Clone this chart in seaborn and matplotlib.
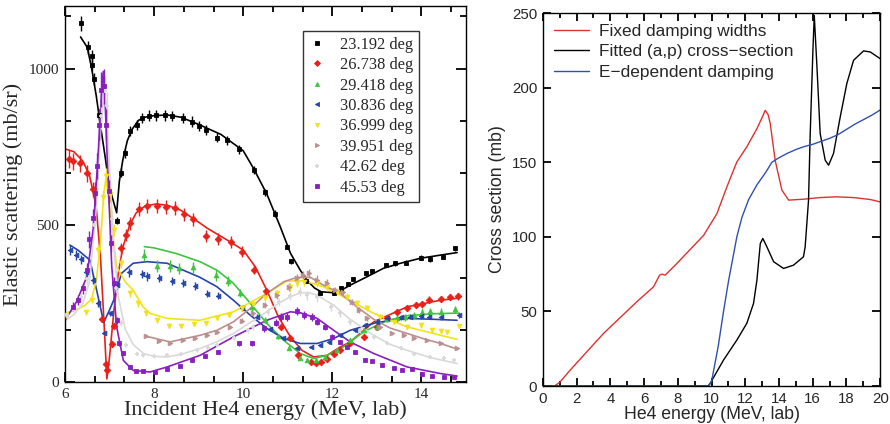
import numpy as np
import pandas as pd
import matplotlib
import matplotlib.pyplot as plt
import seaborn as sns
from matplotlib.lines import Line2D
from matplotlib.ticker import MultipleLocator

matplotlib.use('Agg')

# ---------------- left panel: elastic scattering data + fits ----------------
angles = ['23.192 deg', '26.738 deg', '29.418 deg', '30.836 deg',
          '36.999 deg', '39.951 deg', '42.62 deg', '45.53 deg']
colors = ['#000000', '#e8201a', '#3fc43f', '#2545a8',
          '#f2e21a', '#bc8f8f', '#d9d9d9', '#8a1fc0']
markers = ['s', 'D', '^', '<', 'v', '>', '+', 's']
rel_err = [0.02, 0.04, 0.05, 0.04, 0.04, 0.04, 0.05, 0.06]

# 23.192 deg
e_pts_a = [6.35, 6.52, 6.60, 6.61, 6.66, 6.76, 7.16, 7.25, 7.34, 7.46, 7.61, 7.73, 7.88, 8.05,
           8.24, 8.40, 8.64, 8.86, 9.00, 9.16, 9.42, 9.63, 9.91, 10.24, 10.50, 10.71, 10.99,
           11.07, 11.40, 11.73, 12.03, 12.19, 12.35, 12.46, 12.76, 12.89, 13.21, 13.40, 13.66,
           13.98, 14.19, 14.48, 14.75]
s_pts_a = [1144, 1068, 1013, 1040, 967, 853, 515, 668, 730, 802, 821, 842, 850, 851,
           851, 849, 842, 831, 818, 805, 780, 771, 742, 677, 605, 537, 432,
           385, 322, 283, 283, 300, 312, 329, 347, 354, 373, 379, 381,
           397, 392, 400, 427]
e_fit_a = [6.35, 6.5, 6.6, 6.7, 6.8, 6.9, 7.0, 7.1, 7.16, 7.22, 7.3, 7.4, 7.5, 7.65, 7.8, 8.0,
           8.3, 8.6, 9.0, 9.5, 10.0, 10.23, 10.53, 10.83, 11.06, 11.28, 11.43, 11.6, 11.75,
           12.03, 12.18, 12.4, 12.78, 13.15, 13.53, 13.98, 14.43, 14.8]
s_fit_a = [1101, 1068, 1000, 915, 815, 720, 620, 570, 540, 640, 710, 770, 805, 835, 845, 850,
           852, 845, 822, 790, 738, 682, 600, 496, 411, 357, 325, 300, 288,
           285, 291, 309, 336, 363, 379, 395, 405, 413]

# 26.738 deg
e_pts_b = [6.10, 6.19, 6.34, 6.50, 6.64, 6.84, 6.91, 6.95, 7.05, 7.11, 7.26, 7.37, 7.46, 7.66,
           7.85, 8.07, 8.27, 8.48, 8.68, 8.88, 9.17, 9.44, 9.72, 9.98, 10.25, 10.51, 10.84,
           11.06, 11.22, 11.52, 11.64, 11.75, 11.88, 12.04, 12.18, 12.40, 12.70, 13.00, 13.22,
           13.45, 13.68, 13.87, 14.02, 14.17, 14.43, 14.65, 14.82]
s_pts_b = [711, 704, 698, 666, 615, 201, 59, 38, 120, 180, 427, 469, 506, 552,
           563, 562, 557, 555, 535, 519, 466, 457, 447, 416, 358, 290, 176,
           140, 85, 64, 60, 64, 72, 91, 101, 123, 144, 176, 203,
           224, 237, 245, 250, 263, 265, 271, 273]
e_fit_b = [6.0, 6.2, 6.4, 6.55, 6.7, 6.8, 6.88, 6.94, 7.0, 7.1, 7.2, 7.3, 7.45, 7.6, 7.8, 8.05,
           8.3, 8.6, 9.0, 9.2, 9.7, 10.0, 10.27, 10.53, 10.79, 11.06, 11.32, 11.58, 11.88,
           12.18, 12.4, 12.93, 13.68, 14.43, 14.8]
s_fit_b = [744, 735, 705, 660, 560, 390, 180, 10, 80, 230, 350, 430, 500, 540, 562, 568,
           564, 548, 510, 490, 448, 421, 368, 293, 208, 144, 101, 80, 85,
           112, 128, 192, 240, 261, 267]

# 29.418 deg
e_pts_c = [7.78, 8.07, 8.36, 8.57, 8.87, 9.39, 9.66, 9.93, 10.2, 10.49, 10.77, 11.02, 11.27,
           11.43, 11.64, 11.84, 12.10, 12.40, 12.70, 13.00, 13.22, 13.45, 13.64, 13.83, 14.02,
           14.20, 14.43, 14.76]
s_pts_c = [405, 370, 370, 363, 366, 340, 322, 284, 240, 197, 146, 108, 77,
           69, 69, 80, 101, 133, 165, 176, 200, 203, 206, 213, 224,
           226, 224, 232]
e_fit_c = [7.78, 8.0, 8.5, 9.03, 9.41, 9.78, 10.16, 10.53, 10.91, 11.28, 11.58, 11.88, 12.25,
           12.7, 13.2, 13.7, 14.3, 14.85]
s_fit_c = [432, 428, 410, 384, 357, 315, 251, 187, 133, 91, 75, 85, 112,
           160, 195, 212, 218, 220]

# 30.836 deg
e_pts_d = [6.11, 6.24, 6.36, 6.47, 6.64, 6.75, 6.88, 7.02, 7.16, 7.43, 7.72, 7.85, 8.11, 8.40,
           8.64, 8.91, 9.19, 9.43, 9.98, 10.31, 10.6, 10.9, 11.21, 11.52, 11.73, 11.92, 12.18,
           12.52, 12.74, 13.0, 13.22, 13.53, 13.75, 13.98, 14.16, 14.43, 14.84]
s_pts_d = [421, 406, 391, 350, 327, 251, 158, 219, 309, 350, 345, 337, 331, 322,
           315, 306, 282, 275, 237, 208, 170, 140, 107, 112, 117, 128, 149,
           165, 181, 192, 203, 206, 208, 210, 208, 206, 213]
e_fit_d = [6.11, 6.3, 6.56, 6.7, 6.87, 7.0, 7.09, 7.27, 7.53, 7.84, 8.29, 9.03, 9.41, 9.78,
           10.16, 10.53, 10.91, 11.28, 11.66, 12.03, 12.4, 13.0, 13.68, 14.3, 14.8]
s_fit_d = [437, 420, 389, 300, 190, 230, 260, 347, 379, 384, 379, 334, 304, 261,
           213, 171, 139, 123, 123, 139, 165, 190, 203, 200, 197]

# 36.999 deg
e_pts_e = [6.02, 6.47, 6.61, 6.75, 6.85, 6.92, 7.0, 7.11, 7.25, 7.45, 7.63, 7.82, 8.07, 8.34,
           8.61, 8.90, 9.16, 9.42, 9.69, 9.97, 10.23, 10.49, 10.76, 11.06, 11.21, 11.36, 11.66,
           11.88, 12.10, 12.33, 12.55, 12.78, 13.08, 13.38, 13.68, 13.98, 14.24, 14.43, 14.58,
           14.84]
s_pts_e = [213, 222, 262, 420, 590, 656, 600, 485, 380, 283, 251, 219, 197, 180,
           179, 185, 188, 205, 215, 235, 248, 268, 283, 303, 315, 318, 315,
           304, 288, 272, 251, 235, 208, 192, 176, 181, 165, 163, 160,
           178]
e_fit_e = [6.0, 6.25, 6.45, 6.6, 6.71, 6.8, 6.87, 6.92, 7.0, 7.16, 7.35, 7.53, 7.75, 7.91, 8.29,
           9.03, 9.78, 10.53, 10.98, 11.36, 11.8, 12.18, 12.93, 13.68, 14.8]
s_fit_e = [219, 230, 245, 265, 330, 450, 600, 650, 560, 368, 320, 293, 240, 219, 203,
           197, 224, 283, 322, 323, 304, 277, 219, 176, 136]

# 39.951 deg
e_pts_f = [7.82, 8.10, 8.36, 8.66, 8.92, 9.18, 9.41, 9.71, 9.97, 10.23, 10.49, 10.76, 11.02,
           11.21, 11.35, 11.47, 11.66, 11.88, 12.07, 12.25, 12.44, 12.6, 12.78, 13.08, 13.34,
           13.60, 13.83, 14.13, 14.43, 14.80]
s_pts_f = [148, 132, 123, 135, 141, 150, 160, 176, 195, 219, 245, 277, 304,
           331, 341, 347, 327, 315, 293, 288, 256, 230, 203, 176, 155,
           149, 142, 133, 123, 107]
e_fit_f = [7.82, 8.36, 9.03, 9.41, 9.78, 10.16, 10.53, 10.91, 11.21, 11.51, 11.8, 12.18, 12.55,
           12.93, 13.3, 13.68, 14.05, 14.43, 14.8]
s_fit_f = [146, 128, 149, 165, 192, 235, 283, 320, 334, 334, 309, 283, 240,
           200, 172, 155, 138, 123, 105]

# 42.62 deg
e_pts_g = [6.05, 6.2, 6.35, 6.5, 6.65, 6.8, 6.9, 6.95, 7.05, 7.15, 7.25, 7.38, 7.61, 7.74, 8.0,
           8.3, 8.6, 8.96, 9.2, 9.41, 9.8, 10.1, 10.23, 10.55, 10.8, 11.06, 11.28, 11.43, 11.66,
           11.96, 12.18, 12.40, 12.63, 12.93, 13.22, 13.53, 13.83, 14.20, 14.50, 14.73]
s_pts_g = [215, 230, 270, 330, 500, 850, 930, 880, 520, 300, 187, 117, 91, 85, 82,
           85, 90, 101, 110, 117, 140, 165, 176, 225, 255, 275, 288, 277, 270,
           240, 219, 192, 165, 144, 123, 107, 91, 80, 77, 69]
e_fit_g = [6.0, 6.2, 6.4, 6.55, 6.7, 6.8, 6.88, 6.93, 7.0, 7.1, 7.2, 7.35, 7.53, 7.76, 8.0, 8.29,
           8.6, 9.03, 9.4, 9.78, 10.16, 10.53, 10.8, 11.06, 11.28, 11.5, 11.66, 12.03, 12.4,
           12.93, 13.3, 13.68, 14.2, 14.8]
s_fit_g = [195, 215, 250, 320, 550, 800, 920, 890, 680, 420, 270, 170, 120, 91, 82, 80,
           88, 107, 128, 155, 190, 224, 252, 272, 285, 284, 277, 245, 200,
           149, 120, 101, 78, 59]

# 45.53 deg
e_pts_h = [6.17, 6.30, 6.40, 6.49, 6.55, 6.62, 6.67, 6.73, 6.77, 6.80, 6.88, 6.92, 6.99, 7.03,
           7.10, 7.16, 7.22, 7.30, 7.46, 7.60, 7.76, 8.01, 8.30, 8.58, 8.86, 9.15, 9.43, 9.91,
           10.20, 10.46, 10.74, 10.85, 10.99, 11.21, 11.36, 11.54, 11.66, 11.84, 11.99, 12.18,
           12.33, 12.52, 12.74, 12.89, 13.12, 13.38, 13.57, 13.79, 14.02, 14.24, 14.50, 14.73]
s_pts_h = [240, 261, 299, 357, 455, 522, 602, 688, 821, 933, 943, 821, 608, 443,
           315, 197, 123, 93, 48, 35, 35, 32, 42, 50, 69, 82, 96, 123,
           123, 171, 189, 208, 208, 227, 213, 208, 192, 176, 144, 128,
           112, 96, 69, 67, 53, 46, 37, 43, 25, 19, 16, 16]
e_fit_h = [6.0, 6.26, 6.49, 6.64, 6.75, 6.82, 6.86, 6.9, 6.94, 7.05, 7.16, 7.31, 7.53, 7.91,
           8.29, 9.03, 9.78, 10.53, 11.06, 11.28, 11.66, 12.03, 12.4, 12.93, 13.68, 14.43, 14.8]
s_fit_h = [197, 256, 336, 496, 741, 922, 991, 900, 741, 368, 176, 69, 37, 32,
           48, 85, 144, 197, 224, 221, 203, 165, 128, 91, 48, 27, 19]

e_pts = [e_pts_a, e_pts_b, e_pts_c, e_pts_d, e_pts_e, e_pts_f, e_pts_g, e_pts_h]
s_pts = [s_pts_a, s_pts_b, s_pts_c, s_pts_d, s_pts_e, s_pts_f, s_pts_g, s_pts_h]
e_fit = [e_fit_a, e_fit_b, e_fit_c, e_fit_d, e_fit_e, e_fit_f, e_fit_g, e_fit_h]
s_fit = [s_fit_a, s_fit_b, s_fit_c, s_fit_d, s_fit_e, s_fit_f, s_fit_g, s_fit_h]

# ---------------- right panel: reaction cross sections ----------------
e_fixed = [0, 0.69, 1.0, 1.62, 3.60, 5.57, 6.56, 6.92, 7.06, 7.25, 7.94, 9.53, 10.32, 10.91,
           11.50, 12.09, 12.69, 13.0, 13.18, 13.35, 13.48, 13.77, 14.17, 14.57, 15.45, 16.44,
           17.43, 18.42, 19.41, 20.0]
s_fixed = [0, 0, 2.5, 10.7, 35.3, 56.5, 66.5, 74.3, 75, 74.3, 82.1, 101, 115.6, 133.5,
           150.2, 160.3, 172.5, 180, 184.8, 182, 175.9, 151.3, 131.3, 124.6, 125.2, 126.3,
           126.8, 126.3, 125, 123.4]
e_fitted = [0, 9.8, 9.92, 10.71, 11.50, 12.09, 12.49, 12.69, 12.89, 13.04, 13.28, 13.68, 14.27,
            14.86, 15.45, 15.55, 15.75, 15.85, 16.01, 16.09, 16.25, 16.44, 16.74, 16.94, 17.23,
            17.63, 18.02, 18.42, 19.01, 19.41, 20.0]
s_fitted = [0, 0, 1.8, 17.4, 30.8, 42, 55.4, 71, 95.5, 98.9, 93.3, 83.3, 78.8,
            81, 86.6, 93.3, 124.6, 169.2, 225, 248.4, 213.8, 169.2, 151.3, 148, 155.8,
            180.4, 202.7, 218.3, 224.6, 223.9, 219.4]
e_edep = [0, 9.83, 10.0, 10.2, 10.4, 10.71, 11.0, 11.3, 11.5, 11.8, 12.2, 12.7, 13.2, 13.58,
          14.0, 14.5, 15.0, 15.5, 16.0, 16.5, 17.0, 17.5, 18.0, 18.5, 19.0, 19.5, 20.0]
s_edep = [0, 0, 3, 15, 27, 50, 70, 88, 100, 113, 125, 135, 143, 150,
          153, 156, 158.5, 160.5, 162, 164, 166, 168.5, 172, 175.5, 178.5, 181.5, 185]
curve_labels = ['Fixed damping widths', 'Fitted (a,p) cross\u2212section', 'E\u2212dependent damping']
curve_colors = ['#e03030', '#000000', '#3050b0']

sns.set_style('ticks')
serif = ['Liberation Serif', 'DejaVu Serif']
sans = ['Liberation Sans', 'DejaVu Sans']

fig = plt.figure(figsize=(8.9, 4.24), dpi=100)
ax1 = fig.add_axes([0.073, 0.099, 0.4506, 0.887])
ax2 = fig.add_axes([0.610, 0.0896, 0.379, 0.8797])

# fits as long-form table
fits = pd.concat([pd.DataFrame({'E': e, 'sigma': s, 'angle': a})
                  for e, s, a in zip(e_fit, s_fit, angles)], ignore_index=True)
sns.lineplot(data=fits, x='E', y='sigma', hue='angle', palette=dict(zip(angles, colors)),
             sort=False, estimator=None, legend=False, lw=1.2, ax=ax1)

handles = []
for e, s, a, c, m, r in zip(e_pts, s_pts, angles, colors, markers, rel_err):
    s = np.asarray(s, dtype=float)
    mew = 1.3 if m == '+' else 0.6
    ax1.errorbar(e, s, yerr=s * r, fmt=m, color=c, ms=3.4, mew=mew,
                 elinewidth=1.0, capsize=0, zorder=3)
    handles.append(Line2D([], [], ls='none', marker=m, color=c, ms=3.0, mew=mew, label=a))

ax1.set_xlim(6, 15)
ax1.set_ylim(0, 1200)
ax1.xaxis.set_major_locator(MultipleLocator(2))
ax1.xaxis.set_minor_locator(MultipleLocator(2 / 3))
ax1.yaxis.set_major_locator(MultipleLocator(500))
ax1.yaxis.set_minor_locator(MultipleLocator(500 / 3))
ax1.tick_params(axis='both', which='major', direction='in', top=True, right=True,
                width=1.3, length=7, color='black', labelsize=11, pad=4)
ax1.tick_params(axis='both', which='minor', direction='in', top=True, right=True,
                width=1.3, length=4, color='black')
for lab in ax1.get_xticklabels() + ax1.get_yticklabels():
    lab.set_family(serif)
ax1.set_xlabel('Incident He4 energy (MeV, lab)', family=serif, fontsize=16, labelpad=0)
ax1.set_ylabel('Elastic scattering (mb/sr)', family=serif, fontsize=16, labelpad=4)
leg = ax1.legend(handles=handles, loc='upper right', bbox_to_anchor=(0.902, 0.955),
                 prop={'family': serif, 'size': 11.8}, frameon=True, fancybox=False,
                 handlelength=1.0, handletextpad=0.85, labelspacing=0.27, borderpad=0.35)
leg.get_frame().set_edgecolor('black')
leg.get_frame().set_linewidth(1.0)
for sp in ax1.spines.values():
    sp.set_linewidth(1.0)
    sp.set_color('black')

# right panel
curves = pd.concat([
    pd.DataFrame({'E': e_fixed, 'sigma': s_fixed, 'curve': curve_labels[0]}),
    pd.DataFrame({'E': e_fitted, 'sigma': s_fitted, 'curve': curve_labels[1]}),
    pd.DataFrame({'E': e_edep, 'sigma': s_edep, 'curve': curve_labels[2]}),
], ignore_index=True)
sns.lineplot(data=curves, x='E', y='sigma', hue='curve', hue_order=curve_labels,
             palette=dict(zip(curve_labels, curve_colors)), sort=False, estimator=None,
             lw=1.0, ax=ax2)
ax2.set_xlim(0, 20)
ax2.set_ylim(0, 250)
ax2.xaxis.set_major_locator(MultipleLocator(2))
ax2.xaxis.set_minor_locator(MultipleLocator(1))
ax2.yaxis.set_major_locator(MultipleLocator(50))
ax2.tick_params(axis='both', which='major', direction='in', top=True, right=True,
                width=1.3, length=6, color='black', labelsize=10.8, pad=4)
ax2.tick_params(axis='both', which='minor', direction='in', top=True, right=True,
                width=1.3, length=3.5, color='black')
for lab in ax2.get_xticklabels() + ax2.get_yticklabels():
    lab.set_family(sans)
ax2.set_xlabel('He4 energy (MeV, lab)', family=sans, fontsize=12.7, labelpad=0)
ax2.set_ylabel('Cross section (mb)', family=sans, fontsize=12.7, labelpad=4)
ax2.legend(loc='upper left', frameon=False, prop={'family': sans, 'size': 12.4},
           handlelength=2.0, handletextpad=0.6, labelspacing=0.3,
           borderaxespad=0.25, title=None)
for sp in ax2.spines.values():
    sp.set_linewidth(1.0)
    sp.set_color('black')

fig.savefig('out.png', dpi=100)
